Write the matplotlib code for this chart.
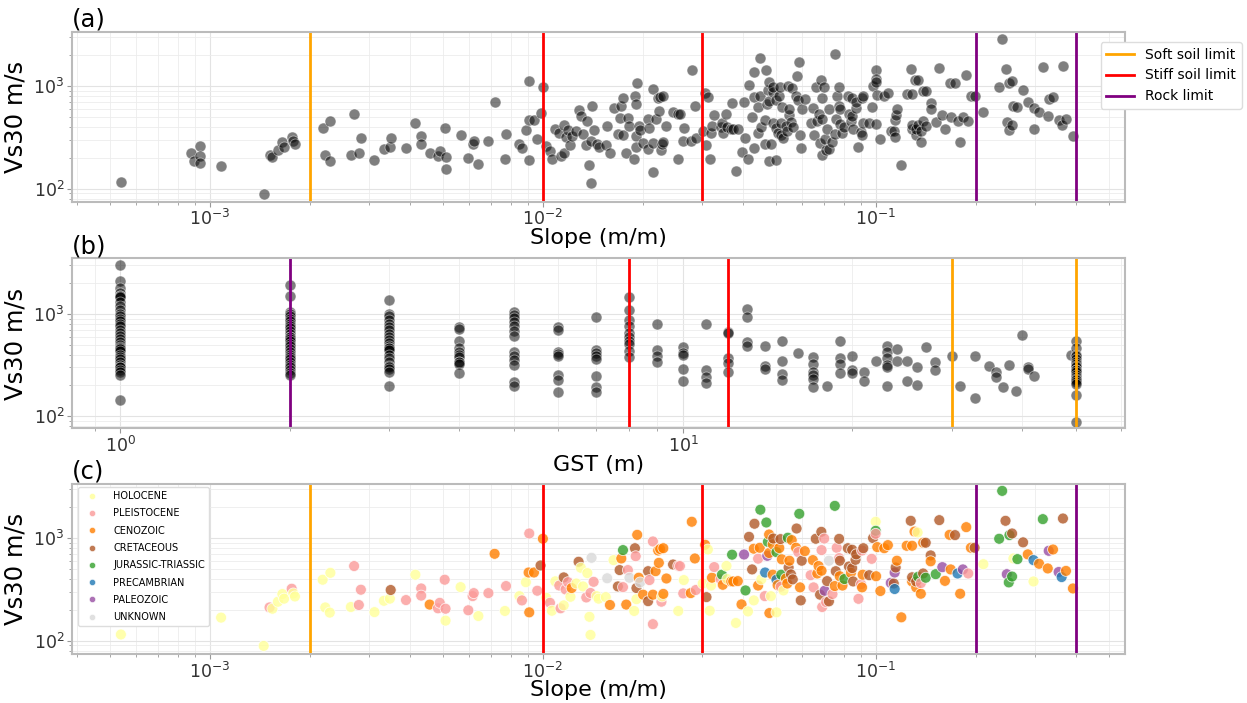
"""Vs30 against slope / GST, three stacked log-log panels."""

import matplotlib

matplotlib.use("Agg")
import matplotlib.pyplot as plt
from matplotlib.lines import Line2D

# ---- (a)/(c): slope (m/m) vs Vs30 (m/s), one row per group of ten sites
slope = [
    5.4e-4, 8.8e-4, 8.95e-4, 9.33e-4, 9.33e-4, 9.33e-4, 1.08e-3, 1.45e-3, 1.51e-3, 1.54e-3,
    1.6e-3, 1.65e-3, 1.67e-3, 1.76e-3, 1.78e-3, 1.8e-3, 2.18e-3, 2.22e-3, 2.29e-3, 2.3e-3,
    2.65e-3, 2.71e-3, 2.8e-3, 2.84e-3, 3.12e-3, 3.33e-3, 3.47e-3, 3.49e-3, 3.88e-3, 4.14e-3,
    4.31e-3, 4.31e-3, 4.57e-3, 4.84e-3, 4.9e-3, 5.07e-3, 5.1e-3, 5.1e-3, 5.66e-3, 5.97e-3,
    6.15e-3, 6.2e-3, 6.4e-3, 6.86e-3, 7.16e-3, 7.69e-3, 7.75e-3, 8.5e-3, 8.65e-3, 8.89e-3,
    9.1e-3, 9.1e-3, 9.06e-3, 9.4e-3, 9.62e-3, 9.84e-3, 0.0100, 0.01023, 0.0105, 0.01064,
    0.0109, 0.0112, 0.0113, 0.01155, 0.01155, 0.0117, 0.0119, 0.0121, 0.0122, 0.0126,
    0.0128, 0.0130, 0.0132, 0.0135, 0.0136, 0.0138, 0.0139, 0.0139, 0.0140, 0.0142,
    0.0145, 0.0147, 0.01545, 0.0156, 0.0159, 0.0163, 0.0168, 0.0170, 0.0172, 0.0174,
    0.0174, 0.0178, 0.0180, 0.0182, 0.0188, 0.0189, 0.0190, 0.0191, 0.0191, 0.0192,
    0.0194, 0.0196, 0.0200, 0.0207, 0.0207, 0.0209, 0.0214, 0.0214, 0.0214, 0.0218,
    0.0222, 0.0223, 0.0225, 0.0227, 0.0228, 0.0230, 0.0230, 0.0235, 0.0246, 0.0255,
    0.0255, 0.0258, 0.0264, 0.0265, 0.0278, 0.0280, 0.0286, 0.0288, 0.0302, 0.0307,
    0.0313, 0.0310, 0.0317, 0.0320, 0.0322, 0.0327, 0.0342, 0.0345, 0.0347, 0.0356,
    0.0358, 0.0368, 0.0370, 0.0373, 0.0380, 0.0385, 0.0395, 0.0402, 0.0406, 0.0413,
    0.0416, 0.0425, 0.0430, 0.0430, 0.0432, 0.0443, 0.0443, 0.0448, 0.0450, 0.0453,
    0.0464, 0.0465, 0.0469, 0.0472, 0.0474, 0.0478, 0.0478, 0.0479, 0.0484, 0.0490,
    0.0490, 0.0492, 0.0503, 0.0503, 0.0503, 0.0507, 0.0513, 0.0517, 0.0518, 0.0520,
    0.0522, 0.0528, 0.0537, 0.0542, 0.0544, 0.0547, 0.0550, 0.0556, 0.0559, 0.0563,
    0.0576, 0.0578, 0.0585, 0.0589, 0.0592, 0.0595, 0.0599, 0.0612, 0.0637, 0.0647,
    0.0650, 0.0660, 0.0667, 0.0673, 0.0680, 0.0686, 0.0687, 0.0687, 0.0690, 0.0700,
    0.0702, 0.0709, 0.0714, 0.0723, 0.0723, 0.0741, 0.0753, 0.0753, 0.0758, 0.0763,
    0.0776, 0.0776, 0.0779, 0.0780, 0.0794, 0.0805, 0.0824, 0.0830, 0.0842, 0.0849,
    0.0849, 0.0855, 0.0869, 0.0873, 0.0887, 0.0903, 0.0909, 0.0909, 0.0913, 0.0917,
    0.0955, 0.0972, 0.0981, 0.0999, 0.0999, 0.0999, 0.1002, 0.1010, 0.1032, 0.1060,
    0.1087, 0.1109, 0.1132, 0.1139, 0.1139, 0.1147, 0.1157, 0.1193, 0.1238, 0.1273,
    0.1285, 0.1285, 0.1285, 0.1307, 0.1322, 0.1322, 0.1335, 0.1340, 0.1365, 0.1365,
    0.1387, 0.1387, 0.1412, 0.1412, 0.1461, 0.1461, 0.1513, 0.1551, 0.1584, 0.1613,
    0.1666, 0.1678, 0.1729, 0.1760, 0.1792, 0.1826, 0.1869, 0.1895, 0.1930, 0.1980,
    0.2104, 0.2347, 0.2396, 0.2452, 0.2474, 0.2508, 0.2520, 0.2566, 0.2566, 0.2590,
    0.2663, 0.2769, 0.2860, 0.2976, 0.2976, 0.3093, 0.3174, 0.3284, 0.3306, 0.3406,
    0.3541, 0.3615, 0.3648, 0.3725, 0.3909,
]
vs30 = [
    115, 223, 186, 261, 208, 179, 168, 89, 211, 205,
    240, 285, 257, 321, 289, 270, 393, 211, 188, 459,
    213, 534, 223, 314, 190, 245, 257, 312, 249, 440,
    323, 275, 225, 207, 234, 393, 205, 157, 333, 198,
    272, 291, 174, 291, 703, 195, 341, 272, 247, 372,
    189, 1109, 462, 462, 307, 541, 985, 262, 234, 196,
    379, 345, 207, 414, 221, 316, 372, 268, 326, 361,
    588, 514, 338, 264, 456, 171, 114, 292, 643, 375,
    272, 257, 266, 406, 223, 610, 338, 488, 633, 764,
    333, 225, 488, 411, 195, 797, 666, 326, 254, 1076,
    411, 370, 281, 476, 243, 390, 281, 145, 927, 476,
    757, 574, 782, 240, 270, 797, 286, 404, 553, 536,
    195, 534, 289, 390, 291, 1443, 633, 312, 361, 861,
    774, 266, 196, 345, 411, 522, 396, 440, 351, 536,
    399, 378, 689, 378, 149, 381, 226, 692, 309, 193,
    1029, 495, 788, 247, 1380, 345, 630, 805, 1889, 396,
    272, 462, 1419, 672, 919, 1084, 716, 186, 272, 870,
    440, 990, 730, 393, 189, 348, 800, 977, 336, 440,
    621, 309, 404, 361, 1008, 517, 602, 443, 956, 396,
    805, 1240, 730, 1725, 331, 247, 602, 746, 435, 610,
    331, 985, 452, 534, 281, 1151, 764, 481, 213, 990,
    307, 238, 381, 602, 242, 285, 2061, 341, 476, 805,
    638, 983, 425, 602, 345, 399, 797, 529, 459, 510,
    770, 378, 615, 694, 256, 355, 331, 757, 440, 797,
    435, 628, 1000, 1443, 1178, 1100, 425, 817, 305, 797,
    854, 366, 361, 462, 319, 517, 602, 169, 842, 1474,
    378, 842, 415, 1157, 331, 378, 1134, 420, 287, 364,
    901, 452, 411, 901, 678, 594, 445, 1496, 521, 383,
    1076, 495, 1069, 452, 287, 495, 1278, 452, 805, 805,
    557, 985, 2884, 1474, 445, 370, 1069, 1109, 422, 633,
    624, 909, 694, 378, 610, 562, 1530, 506, 752, 774,
    467, 417, 1552, 479, 323,
]
# H holocene, P pleistocene, C cenozoic, K cretaceous, J jurassic-triassic,
# B precambrian, Z paleozoic, U unknown
geology = [
    "H", "P", "H", "P", "H", "H", "H", "H", "P", "H",
    "H", "H", "H", "P", "H", "H", "H", "H", "H", "H",
    "H", "P", "P", "P", "H", "H", "H", "K", "P", "H",
    "P", "P", "C", "P", "P", "P", "P", "H", "H", "P",
    "P", "P", "H", "P", "C", "H", "P", "H", "P", "H",
    "C", "P", "C", "C", "P", "K", "C", "H", "P", "H",
    "H", "P", "P", "K", "H", "P", "P", "H", "C", "H",
    "K", "H", "H", "P", "H", "H", "H", "P", "U", "P",
    "H", "H", "H", "U", "C", "H", "K", "K", "C", "J",
    "P", "C", "P", "U", "H", "K", "P", "K", "H", "C",
    "C", "U", "C", "K", "K", "P", "C", "P", "P", "C",
    "C", "C", "C", "P", "H", "C", "C", "C", "K", "P",
    "H", "P", "P", "H", "C", "C", "C", "P", "H", "C",
    "H", "K", "H", "H", "C", "P", "P", "J", "C", "H",
    "H", "C", "J", "C", "H", "C", "C", "Z", "J", "H",
    "K", "K", "C", "H", "K", "C", "P", "C", "J", "H",
    "P", "B", "J", "Z", "J", "C", "C", "C", "H", "C",
    "C", "K", "J", "B", "H", "C", "C", "K", "P", "J",
    "C", "H", "C", "C", "J", "K", "C", "K", "C", "K",
    "C", "K", "P", "J", "C", "K", "K", "C", "P", "C",
    "P", "K", "C", "C", "K", "K", "P", "C", "P", "P",
    "Z", "P", "K", "U", "K", "P", "J", "C", "K", "P",
    "P", "K", "C", "K", "C", "J", "K", "K", "C", "K",
    "K", "K", "K", "K", "P", "P", "C", "P", "C", "K",
    "K", "P", "K", "H", "J", "P", "C", "C", "C", "C",
    "C", "Z", "K", "Z", "B", "K", "C", "C", "C", "K",
    "C", "C", "K", "C", "C", "K", "H", "J", "C", "P",
    "C", "K", "J", "K", "K", "C", "J", "K", "Z", "C",
    "C", "C", "K", "B", "C", "Z", "C", "P", "C", "K",
    "H", "J", "J", "K", "Z", "J", "J", "K", "J", "H",
    "J", "K", "C", "H", "B", "C", "J", "C", "Z", "C",
    "Z", "B", "K", "C", "C",
]

geo_codes = ["H", "P", "C", "K", "J", "B", "Z", "U"]
geo_names = ["HOLOCENE", "PLEISTOCENE", "CENOZOIC", "CRETACEOUS",
             "JURASSIC-TRIASSIC", "PRECAMBRIAN", "PALEOZOIC", "UNKNOWN"]
geo_colors = ["#ffff99", "#fb9a99", "#ff7f00", "#b15928",
              "#33a02c", "#1f78b4", "#984ea3", "#d9d9d9"]

# ---- (b): GST depth (m) and the Vs30 values measured at each depth
gst_depth = [1, 2, 3, 4, 5, 6, 7, 8, 9, 10, 11, 12, 13, 14, 15, 16, 17, 18, 19, 20,
             21, 22, 23, 24, 25, 26, 27, 28, 30, 31, 33, 35, 36, 37, 38, 39, 40, 41, 42, 49, 50]
gst_vs30 = [
    [2985, 2113, 1770, 1600, 1510, 1500, 1450, 1300, 1200, 1100, 1000, 950, 900, 850,
     800, 760, 700, 650, 610, 570, 530, 500, 470, 460, 450, 430, 400, 380, 360, 340,
     320, 300, 300, 285, 270, 255, 144],
    [1920, 1510, 1050, 1000, 950, 900, 850, 800, 760, 720, 680, 640, 600, 600, 570,
     540, 510, 480, 450, 420, 400, 380, 360, 340, 320, 300, 280, 265, 255],
    [1380, 1000, 950, 880, 800, 740, 690, 640, 600, 560, 520, 480, 460, 460, 440, 400,
     370, 340, 310, 300, 290, 270, 196],
    [745, 715, 548, 462, 422, 398, 378, 342, 342, 324, 263],
    [1038, 978, 908, 830, 768, 687, 607, 422, 385, 355, 320, 217, 196],
    [752, 702, 428, 404, 386, 254, 228, 171],
    [928, 448, 416, 386, 364, 250, 195, 174],
    [1453, 1094, 874, 758, 650, 592, 540, 509, 438, 377],
    [803, 444, 386, 337],
    [472, 416, 397, 287, 222],
    [803, 280, 244, 210],
    [672, 652, 371, 330, 273],
    [1119, 928, 530, 484],
    [484, 312, 287],
    [545, 345, 256, 227],
    [416],
    [377, 325, 273, 254, 232, 195],
    [198],
    [545, 371, 325, 266],
    [384, 280, 262],
    [270, 222],
    [345],
    [484, 422, 369, 320, 302, 196],
    [455, 350],
    [345, 222],
    [302, 202],
    [472],
    [337, 280],
    [384],
    [196],
    [384, 150],
    [311],
    [273, 240],
    [193],
    [315],
    [176],
    [619],
    [302, 290],
    [250],
    [397],
    [545, 462, 400, 384, 360, 340, 325, 310, 300, 285, 280, 270, 255, 240, 232, 225,
     215, 205, 160, 88],
]

# class limits drawn as vertical lines
slope_soft = [0.002]
slope_stiff = [0.01, 0.03]
slope_rock = [0.2, 0.4]
gst_soft = [30, 50]
gst_stiff = [8, 12]
gst_rock = [2]

SOFT_C, STIFF_C, ROCK_C = "#FFA500", "#FF0000", "#800080"


def style_axes(ax, label, xlabel):
    ax.set_xscale("log")
    ax.set_yscale("log")
    ax.grid(True, which="major", color="#e3e3e3", linewidth=0.8)
    ax.grid(True, which="minor", color="#ececec", linewidth=0.6)
    ax.set_axisbelow(True)
    for sp in ax.spines.values():
        sp.set_color("#bbbbbb")
        sp.set_linewidth(1.5)
    ax.tick_params(which="both", labelsize=12.5, colors="#333333", pad=2)
    ax.tick_params(which="both", color="#999999")
    ax.set_ylabel("Vs30 m/s", fontsize=17.5, labelpad=4)
    ax.set_xlabel(xlabel, fontsize=16, labelpad=-1)
    ax.set_title(label, loc="left", fontsize=17.5, pad=1)


def vlines(ax, soft, stiff, rock):
    for x in soft:
        ax.axvline(x, color=SOFT_C, linewidth=2)
    for x in stiff:
        ax.axvline(x, color=STIFF_C, linewidth=2)
    for x in rock:
        ax.axvline(x, color=ROCK_C, linewidth=2)


fig = plt.figure(figsize=(12.47, 7.03), dpi=100)
left, width, height = 0.0577, 0.8444, 0.2418
ax_a = fig.add_axes([left, 0.7130, width, height])
ax_b = fig.add_axes([left, 0.3905, width, height])
ax_c = fig.add_axes([left, 0.0700, width, height])

# (a) slope, grey points
ax_a.scatter(slope, vs30, s=62, color="black", alpha=0.5,
             edgecolors="white", linewidths=0.6, zorder=2)
vlines(ax_a, slope_soft, slope_stiff, slope_rock)
style_axes(ax_a, "(a)", "Slope (m/m)")
ax_a.set_xlim(3.85e-4, 0.56)
ax_a.set_ylim(74.6, 3380)
limit_handles = [
    Line2D([0], [0], color=SOFT_C, linewidth=2, label="Soft soil limit"),
    Line2D([0], [0], color=STIFF_C, linewidth=2, label="Stiff soil limit"),
    Line2D([0], [0], color=ROCK_C, linewidth=2, label="Rock limit"),
]
ax_a.legend(handles=limit_handles, loc="upper left", bbox_to_anchor=(0.977, 0.94),
            fontsize=10, framealpha=1, edgecolor="#dddddd", borderaxespad=0)

# (b) GST depth
gx = [d for d, vals in zip(gst_depth, gst_vs30) for _ in vals]
gy = [v for vals in gst_vs30 for v in vals]
ax_b.scatter(gx, gy, s=62, color="black", alpha=0.5,
             edgecolors="white", linewidths=0.6, zorder=2)
vlines(ax_b, gst_soft, gst_stiff, gst_rock)
style_axes(ax_b, "(b)", "GST (m)")
ax_b.set_xlim(0.82, 61)
ax_b.set_ylim(76, 3470)

# (c) slope coloured by geology
color_of = dict(zip(geo_codes, geo_colors))
ax_c.scatter(slope, vs30, s=62, c=[color_of[g] for g in geology], alpha=0.8,
             edgecolors="white", linewidths=0.6, zorder=2)
vlines(ax_c, slope_soft, slope_stiff, slope_rock)
style_axes(ax_c, "(c)", "Slope (m/m)")
ax_c.set_xlim(3.85e-4, 0.56)
ax_c.set_ylim(74.6, 3380)
geo_handles = [
    Line2D([0], [0], marker="o", linestyle="", markersize=4.5, alpha=0.8,
           markerfacecolor=col, markeredgecolor="white", markeredgewidth=0.5, label=name)
    for name, col in zip(geo_names, geo_colors)
]
ax_c.legend(handles=geo_handles, loc="upper left", bbox_to_anchor=(0.006, 0.98),
            fontsize=7, framealpha=1, edgecolor="#dddddd", borderaxespad=0,
            labelspacing=0.75, handletextpad=1.2)

fig.savefig("out.png", dpi=100)
